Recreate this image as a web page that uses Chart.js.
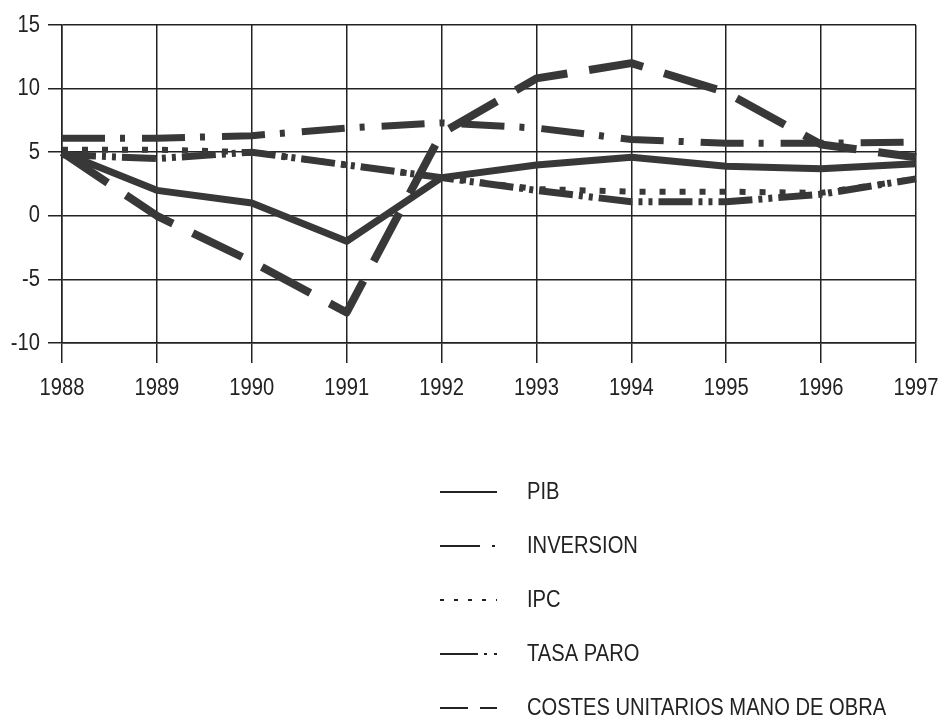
<!DOCTYPE html>
<html><head><meta charset="utf-8">
<script src="https://cdn.jsdelivr.net/npm/chart.js@4.4.1/dist/chart.umd.min.js"></script>
<style>html,body{margin:0;padding:0;background:#fff;}#wrap{width:941px;height:720px;}</style>
</head><body><div id="wrap"><canvas id="c" width="941" height="720"></canvas></div>
<script>
const years = ['1988','1989','1990','1991','1992','1993','1994','1995','1996','1997'];
const pib = [5, 2, 1, -2, 3, 4, 4.6, 3.9, 3.7, 4.1];
const inversion = [6.1, 6.1, 6.3, 6.9, 7.3, 6.9, 6.0, 5.7, 5.7, 5.8];
const ipc = [5.2, 5.2, 5.0, 4.0, 3.0, 2.1, 1.9, 1.9, 1.8, 2.9];
const tasaParo = [4.8, 4.5, 5.0, 4.0, 3.0, 2.0, 1.1, 1.1, 1.7, 2.9];
const costes = [5, 0, -3.6, -7.6, 6.5, 10.8, 12, 9.7, 5.6, 4.6];
const seriesNames = ['PIB','INVERSION','IPC','TASA PARO','COSTES UNITARIOS MANO DE OBRA'];
const yTicks = [-10, -5, 0, 5, 10, 15];

const FONT = '"Liberation Sans", Arial, sans-serif';
const NARROW = 0.84;
const INK = '#383838';
const GRID = '#222';

// condensed text (Arial Narrow look) by horizontal scaling of every text draw
const narrowText = {
  id: 'narrowText',
  beforeDraw(chart) {
    const ctx = chart.ctx;
    if (ctx.__narrow) return;
    const orig = ctx.fillText;
    ctx.fillText = function (t, x, y, mw) {
      this.save();
      this.translate(x, y);
      this.scale(NARROW, 1);
      if (mw === undefined) orig.call(this, t, 0, 0); else orig.call(this, t, 0, 0, mw / NARROW);
      this.restore();
    };
    ctx.__narrow = true;
  }
};

const columnLegend = {
  id: 'columnLegend',
  afterDraw(chart) {
    const ctx = chart.ctx;
    chart.data.datasets.forEach((ds, i) => {
      const y = 492 + i * 54;
      ctx.save();
      ctx.strokeStyle = '#222';
      ctx.lineWidth = 2;
      ctx.setLineDash(ds.legendDash);
      ctx.beginPath(); ctx.moveTo(440, y); ctx.lineTo(497, y); ctx.stroke();
      ctx.setLineDash([]);
      ctx.fillStyle = '#222';
      ctx.font = '24px ' + FONT;
      ctx.textBaseline = 'middle';
      ctx.textAlign = 'left';
      ctx.fillText(ds.label, 527, y);
      ctx.restore();
    });
  }
};

function ds(label, data, dash, legendDash, width) {
  return { label, data, borderColor: INK, borderWidth: width, borderDash: dash, legendDash,
    pointRadius: 0, tension: 0, fill: false, borderCapStyle: 'butt', borderJoinStyle: 'round' };
}

new Chart(document.getElementById('c'), {
  type: 'line',
  data: {
    labels: years,
    datasets: [
      ds(seriesNames[0], pib, [], [], 7),
      ds(seriesNames[1], inversion, [43, 15, 5, 17], [40, 12, 3, 20], 7),
      ds(seriesNames[2], ipc, [6, 14], [4, 10], 6),
      ds(seriesNames[3], tasaParo, [34, 6, 4, 6, 4, 6], [38, 6, 3, 7, 3, 20], 7),
      ds(seriesNames[4], costes, [55, 22], [28, 12], 8)
    ]
  },
  options: {
    responsive: false,
    devicePixelRatio: 1,
    animation: false,
    layout: { autoPadding: false, padding: { top: 25, right: 25, left: 0, bottom: 0 } },
    plugins: { legend: { display: false }, tooltip: { enabled: false } },
    scales: {
      x: {
        grid: { color: GRID, lineWidth: 1.5, tickLength: 20 },
        border: { color: GRID, width: 1.5 },
        ticks: { font: { family: FONT, size: 24 }, color: '#222', padding: 11, maxRotation: 0, autoSkip: false },
        afterFit(s) { s.height = 377; s.paddingLeft = 0; s.paddingRight = 0; }
      },
      y: {
        min: -10, max: 15,
        afterBuildTicks(s) { s.ticks = yTicks.map(v => ({ value: v })); },
        grid: { color: GRID, lineWidth: 1.5, tickLength: 14 },
        border: { color: GRID, width: 1.5 },
        ticks: { font: { family: FONT, size: 24 }, color: '#222', padding: 8 },
        afterFit(s) { s.width = 62; s.paddingTop = 0; s.paddingBottom = 0; }
      }
    }
  },
  plugins: [narrowText, columnLegend]
});
</script></body></html>
